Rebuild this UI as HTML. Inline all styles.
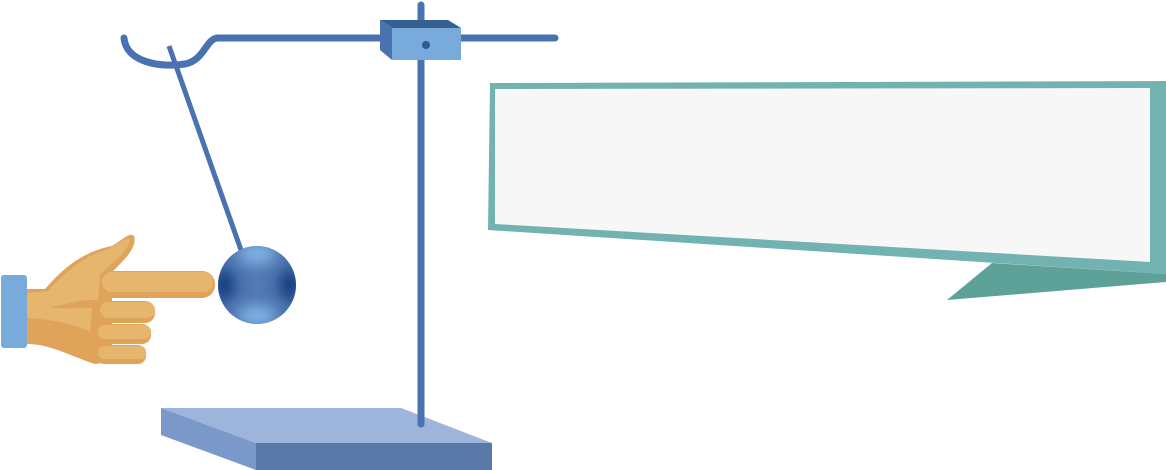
<!DOCTYPE html>
<html><head><style>html,body{margin:0;padding:0;background:#fff;}svg{display:block}</style></head>
<body>
<svg width="1166" height="470" viewBox="0 0 1166 470" xmlns="http://www.w3.org/2000/svg">
<defs>
<filter id="bl" x="-50%" y="-50%" width="200%" height="200%"><feGaussianBlur stdDeviation="7"/></filter>
<clipPath id="bc"><circle cx="257" cy="285" r="39"/></clipPath>
</defs>
<!-- callout -->
<polygon points="992,263 1166,274 1166,282 947,300" fill="#5da198"/>
<polygon points="490,83 1166,81 1166,274 488,230" fill="#72b2b1"/>
<polygon points="495,89 1150,88 1150,262 495,224" fill="#f7f7f7"/>
<!-- base -->
<polygon points="161,408 401,408 492,443 256,443" fill="#9db4db"/>
<polygon points="161,408 256,443 256,470 161,435" fill="#7a98c9"/>
<rect x="256" y="443" width="236" height="27" fill="#5a78a7"/>
<!-- rod -->
<line x1="421" y1="5" x2="421" y2="424" stroke="#4a72b0" stroke-width="7" stroke-linecap="round"/>
<!-- arm -->
<path d="M124,38 C126,62 160,68 185,64 C205,60 206,38 218,38 L555,38" fill="none" stroke="#4a72b0" stroke-width="7" stroke-linecap="round"/>
<!-- clamp -->
<polygon points="380,20 448,20 461,28 392,28" fill="#365f94"/>
<polygon points="380,20 392,28 392,60 380,50" fill="#4a72b0"/>
<rect x="392" y="28" width="69" height="32" fill="#78aadc"/>
<circle cx="426" cy="45" r="4" fill="#2b5a94"/>
<!-- string -->
<line x1="169" y1="46" x2="241" y2="250" stroke="#4a72b0" stroke-width="5"/>
<!-- ball -->
<g clip-path="url(#bc)">
<rect x="215" y="243" width="84" height="84" fill="#4a72ae"/>
<g filter="url(#bl)">
<ellipse cx="257" cy="254" rx="20" ry="12" fill="#80b0e2"/>
<ellipse cx="257" cy="316" rx="20" ry="12" fill="#80b0e2"/>
<ellipse cx="224" cy="285" rx="10" ry="16" fill="#0c3a7c"/>
<ellipse cx="290" cy="285" rx="10" ry="16" fill="#0c3a7c"/>
<ellipse cx="257" cy="285" rx="8" ry="8" fill="#5b82bb"/>
</g>
</g>
<!-- hand -->
<path d="M27,289 L45,289 C60,272 80,252 112,246 C125,238 130,232 134,236 C138,248 122,262 112,272 L112,362 L95,364 C70,356 50,344 27,344 Z" fill="#e0a35a"/>
<path d="M27,293 L48,291 C63,275 82,256 108,249 C122,242 128,236 130,240 C128,252 112,264 100,274 L98,300 C90,300 80,300 70,303 C60,306 52,306 48,307 C62,309 80,308 92,308 L90,332 C78,326 60,320 27,318 Z" fill="#e6b56e"/>
<rect x="100" y="271" width="115" height="27" rx="13" fill="#e0a35a"/>
<rect x="102" y="272" width="111" height="20" rx="10" fill="#e6b56e"/>
<rect x="98" y="301" width="57" height="22" rx="10" fill="#e0a35a"/>
<rect x="100" y="302" width="55" height="16" rx="8" fill="#e6b56e"/>
<rect x="96" y="324" width="55" height="20" rx="9" fill="#e0a35a"/>
<rect x="98" y="325" width="53" height="14" rx="7" fill="#e6b56e"/>
<rect x="96" y="345" width="50" height="19" rx="8" fill="#e0a35a"/>
<rect x="98" y="346" width="48" height="13" rx="6" fill="#e6b56e"/>
<rect x="1" y="275" width="26" height="73" rx="3" fill="#78aadc"/>
</svg>
</body></html>
